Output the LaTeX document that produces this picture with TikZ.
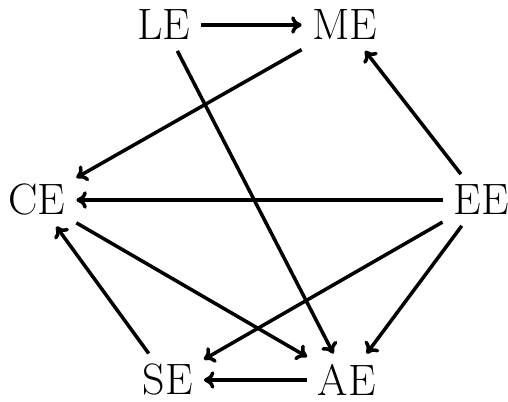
\documentclass[tikz,border=0pt]{standalone}
\usepackage{amsmath}
\usepackage{amssymb}
\usepackage{tikz}
\usetikzlibrary{arrows.meta}

\begin{document}
\begin{tikzpicture}[x=0.02cm, y=-0.02cm,
    every node/.style={font=\fontsize{25}{30}\selectfont, inner sep=6pt},
    edge/.style={-{To[length=6pt,width=10pt]}, line width=2pt}]
  \useasboundingbox (0,0) rectangle (508,402);

  % Nodes
  \node (le) at (164,25) {LE};
  \node (me) at (345,25) {ME};
  \node (ce) at (37,200) {CE};
  \node (ee) at (481,200) {EE};
  \node (se) at (168,380) {SE};
  \node (ae) at (347,380) {AE};

  % Edges
  \draw[edge] (le) -- (me);
  \draw[edge] (me) -- (ce);
  \draw[edge] (le) -- (ae);
  \draw[edge] (ee) -- (me);
  \draw[edge] (ee) -- (ce);
  \draw[edge] (ee) -- (se);
  \draw[edge] (ee) -- (ae);
  \draw[edge] (ce) -- (ae);
  \draw[edge] (se) -- (ce);
  \draw[edge] (ae) -- (se);
\end{tikzpicture}
\end{document}
